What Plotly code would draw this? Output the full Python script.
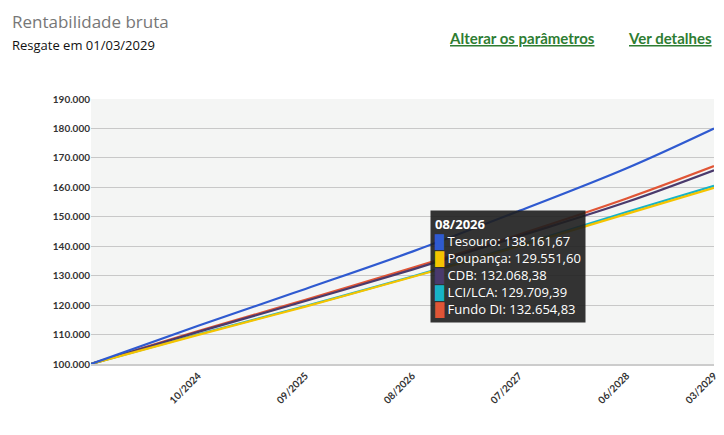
import plotly.graph_objects as go

datas = ['2023-11-01', '2024-10-01', '2025-09-01', '2026-08-01', '2027-07-01', '2028-06-01', '2029-03-01']
rotulos = ['', '<b>10/2024</b>', '<b>09/2025</b>', '<b>08/2026</b>', '<b>07/2027</b>', '<b>06/2028</b>', '<b>03/2029</b>']

tesouro = [100000, 113000, 125500, 138161.67, 152000, 166500, 180000]
poupanca = [100000, 109900, 119500, 129551.60, 140000, 151000, 159800]
cdb = [100000, 110900, 121400, 132068.38, 143400, 155000, 165800]
lci = [100000, 110100, 119700, 129709.39, 140300, 151600, 160500]
fundo_di = [100000, 111200, 121800, 132654.83, 144000, 156200, 167200]

series = [
    ('Fundo DI', fundo_di, '#e05536'),
    ('LCI/LCA', lci, '#17b3c6'),
    ('CDB', cdb, '#4a3a6c'),
    ('Poupança', poupanca, '#f5c400'),
    ('Tesouro', tesouro, '#2f5ad0'),
]

fig = go.Figure()
for nome, vals, cor in series:
    fig.add_trace(go.Scatter(x=datas, y=vals, name=nome, mode='lines',
                             line=dict(color=cor, width=2.2, shape='spline')))

fig.update_layout(
    width=724, height=435,
    margin=dict(l=83, r=18, t=91, b=79),
    paper_bgcolor='white', plot_bgcolor='#f4f5f4',
    showlegend=False,
    font=dict(family='Lato', color='#222'),
    separators=',.',
)
fig.update_xaxes(range=[datas[0], datas[-1]], tickvals=datas, ticktext=rotulos,
                 tickangle=-45, showgrid=False, showline=True, linecolor='#ccc',
                 linewidth=2, automargin=False,
                 tickfont=dict(size=10, color='#333', family='Lato'))
fig.update_yaxes(range=[100000, 190000], dtick=10000, tickformat=',.0f',
                 gridcolor='#c8c8c8', gridwidth=1, zeroline=False, automargin=False,
                 tickprefix='<b>', ticksuffix='</b>',
                 tickfont=dict(size=10, color='#333', family='Lato'))

fig.add_annotation(xref='paper', yref='paper', x=-0.13, y=1.345, xanchor='left',
                   text='Rentabilidade bruta', showarrow=False,
                   font=dict(size=17, color='#777', family='Open Sans'))
fig.add_annotation(xref='paper', yref='paper', x=-0.13, y=1.245, xanchor='left',
                   text='Resgate em 01/03/2029', showarrow=False,
                   font=dict(size=13, color='#111', family='Open Sans'))
fig.add_annotation(xref='paper', yref='paper', x=0.812, y=1.27, xanchor='right',
                   text='<b><u>Alterar os parâmetros</u></b>', showarrow=False,
                   font=dict(size=15, color='#2e7d32', family='Lato'))
fig.add_annotation(xref='paper', yref='paper', x=1.0, y=1.27, xanchor='right',
                   text='<b><u>Ver detalhes</u></b>', showarrow=False,
                   font=dict(size=15, color='#2e7d32', family='Lato'))

linhas = ['<b>08/2026</b>']
for nome, vals, cor in reversed(series):
    v = f'{vals[3]:,.2f}'.replace(',', 'X').replace('.', ',').replace('X', '.')
    linhas.append(f'<span style="color:{cor}">█</span> {nome}: {v}')
fig.add_annotation(x=datas[3], y=138161.67, xref='x', yref='y', xanchor='left', yanchor='top',
                   xshift=18, yshift=42, text='<br>'.join(linhas), align='left',
                   showarrow=False, bgcolor='rgba(30,30,30,0.9)', borderpad=4,
                   font=dict(size=13, color='white', family='Open Sans'))

fig.write_html('out.html')
